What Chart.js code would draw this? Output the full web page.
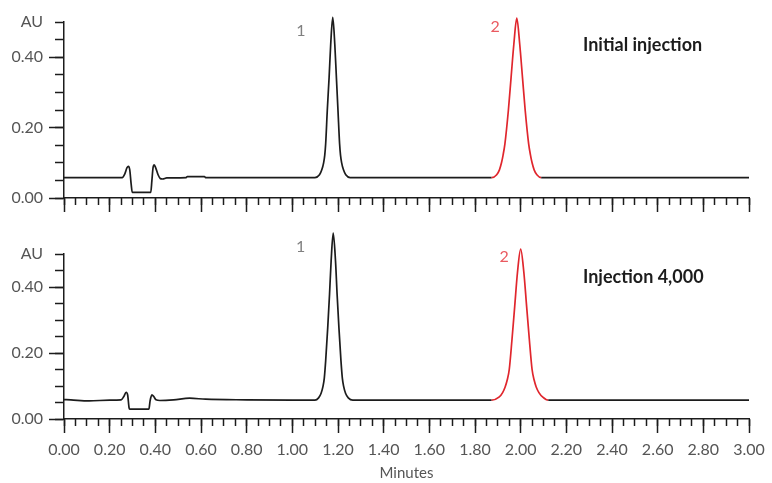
<!DOCTYPE html>
<html>
<head>
<meta charset="utf-8">
<script src="https://cdn.jsdelivr.net/npm/chart.js@4.4.0/dist/chart.umd.min.js"></script>
<style>
  html, body { margin: 0; padding: 0; background: #fff; }
  #wrap { position: relative; width: 772px; height: 483px; }
  canvas { position: absolute; left: 0; }
  #topChart { top: 0; }
  #bottomChart { top: 220px; }
</style>
</head>
<body>
<div id="wrap">
  <canvas id="topChart" width="772" height="220"></canvas>
  <canvas id="bottomChart" width="772" height="263"></canvas>
</div>
<script>
// ---- data (time in minutes, absorbance in AU) ----
const topTime = [0.000, 0.255, 0.266, 0.276, 0.282, 0.288, 0.294, 0.299, 0.380, 0.385, 0.390, 0.395,
  0.402, 0.412, 0.422, 0.432, 0.450, 0.535, 0.540, 0.615, 0.620,
  1.099, 1.119, 1.129, 1.137, 1.142, 1.146, 1.153, 1.161, 1.168, 1.177, 1.186, 1.193, 1.200, 1.207, 1.211, 1.216, 1.224, 1.234, 1.253,
  1.873, 1.895, 1.907, 1.916, 1.923, 1.931, 1.946, 1.958, 1.970, 1.983, 1.996, 2.008, 2.020, 2.035, 2.043, 2.050, 2.059, 2.071, 2.090,
  3.000];
const topAU = [0.058, 0.058, 0.068, 0.086, 0.090, 0.080, 0.040, 0.016, 0.016, 0.050, 0.086, 0.094,
  0.085, 0.066, 0.055, 0.054, 0.057, 0.058, 0.061, 0.061, 0.058,
  0.058, 0.066, 0.080, 0.100, 0.122, 0.154, 0.248, 0.342, 0.436, 0.513, 0.436, 0.342, 0.248, 0.154, 0.122, 0.100, 0.080, 0.066, 0.058,
  0.058, 0.066, 0.080, 0.100, 0.122, 0.154, 0.248, 0.342, 0.436, 0.511, 0.436, 0.342, 0.248, 0.154, 0.122, 0.100, 0.080, 0.066, 0.058,
  0.058];

const bottomTime = [0.000, 0.030, 0.110, 0.200, 0.250, 0.262, 0.272, 0.279, 0.285, 0.288, 0.372, 0.377,
  0.385, 0.393, 0.403, 0.420, 0.480, 0.550, 0.620, 0.800, 1.000,
  1.099, 1.115, 1.126, 1.134, 1.140, 1.146, 1.155, 1.163, 1.170, 1.179, 1.189, 1.196, 1.204, 1.213, 1.219, 1.225, 1.233, 1.245, 1.265,
  1.873, 1.905, 1.921, 1.932, 1.941, 1.950, 1.962, 1.974, 1.986, 2.000, 2.014, 2.026, 2.038, 2.050, 2.059, 2.068, 2.080, 2.097, 2.121,
  3.000];
const bottomAU = [0.059, 0.058, 0.055, 0.057, 0.058, 0.068, 0.081, 0.072, 0.034, 0.030, 0.030, 0.055,
  0.073, 0.068, 0.058, 0.056, 0.058, 0.063, 0.060, 0.058, 0.057,
  0.057, 0.064, 0.078, 0.098, 0.124, 0.176, 0.277, 0.379, 0.480, 0.563, 0.480, 0.379, 0.277, 0.176, 0.124, 0.098, 0.078, 0.064, 0.057,
  0.057, 0.066, 0.080, 0.097, 0.118, 0.150, 0.241, 0.342, 0.444, 0.515, 0.444, 0.342, 0.241, 0.150, 0.118, 0.097, 0.080, 0.066, 0.057,
  0.057];

// peak 2 is traced in red between these times
const topRed = [1.873, 2.090];
const bottomRed = [1.873, 2.121];

const xTickLabels = ['0.00', '0.20', '0.40', '0.60', '0.80', '1.00', '1.20', '1.40', '1.60',
  '1.80', '2.00', '2.20', '2.40', '2.60', '2.80', '3.00'];
const yTickLabels = ['0.00', '', '0.20', '', '0.40', 'AU'];
const peakNames = ['1', '2'];
const panelTitles = ['Initial injection', 'Injection 4,000'];

const INK = '#1c1c1c';
const RED = '#e0262d';
const TICK_TEXT = '#555';

Chart.defaults.font.family = 'Lato, "DejaVu Sans", sans-serif';

// draws peak numbers and panel titles at data coordinates
const textPlugin = {
    id: 'panelText',
    afterDatasetsDraw(chart, args, opts) {
        const { ctx } = chart;
        const x = chart.scales.x, y = chart.scales.y;
        ctx.save();
        ctx.textBaseline = 'alphabetic';
        opts.items.forEach(it => {
            ctx.font = it.font;
            ctx.fillStyle = it.color;
            ctx.textAlign = it.align;
            ctx.fillText(it.text, x.getPixelForValue(it.t), y.getPixelForValue(it.v));
        });
        ctx.restore();
    }
};

function makeChart(id, times, values, red, opts) {
    const pts = times.map((t, i) => ({ x: t, y: values[i] }));
    return new Chart(document.getElementById(id), {
        type: 'line',
        data: {
            datasets: [{
                data: pts,
                borderColor: INK,
                borderWidth: 1.7,
                pointRadius: 0,
                cubicInterpolationMode: 'monotone',
                clip: false,
                segment: {
                    borderColor: c => (c.p0.parsed.x >= red[0] - 1e-9 && c.p1.parsed.x <= red[1] + 1e-9) ? RED : undefined
                }
            }]
        },
        options: {
            responsive: false,
            animation: false,
            layout: { padding: { left: 0, right: 23, top: opts.padTop, bottom: 0 } },
            plugins: {
                legend: { display: false },
                tooltip: { enabled: false },
                panelText: { items: opts.items }
            },
            scales: {
                x: {
                    type: 'linear', position: 'bottom', min: 0, max: 3,
                    afterFit: s => { s.height = opts.xHeight; },
                    border: { color: INK, width: 1.5 },
                    grid: { drawOnChartArea: false, tickLength: 14, tickWidth: 1.5, tickColor: INK },
                    ticks: {
                        display: opts.showX, stepSize: 0.2, padding: 7, autoSkip: false, maxRotation: 0,
                        color: TICK_TEXT, font: { size: 16 },
                        callback: (v, i) => xTickLabels[i]
                    },
                    title: {
                        display: opts.showX, text: 'Minutes', color: TICK_TEXT,
                        font: { size: 15 }, padding: { top: 0, bottom: 1 }
                    }
                },
                xMinor: {
                    type: 'linear', axis: 'x', position: { y: 0 }, min: 0, max: 3,
                    border: { display: false },
                    grid: { drawOnChartArea: false, tickLength: 7, tickWidth: 1.5, tickColor: INK },
                    ticks: { display: false, stepSize: 0.05 }
                },
                y: {
                    type: 'linear', position: 'left', min: 0, max: 0.5,
                    afterFit: s => { s.width = 64; },
                    border: { color: INK, width: 1.5 },
                    grid: {
                        drawOnChartArea: false, tickLength: 15, tickWidth: 1.5,
                        tickColor: c => (c.index % 2 === 0 && c.index < 5) ? INK : 'rgba(0,0,0,0)'
                    },
                    ticks: {
                        stepSize: 0.1, padding: 6, color: TICK_TEXT, font: { size: 16 },
                        callback: (v, i) => yTickLabels[i]
                    }
                },
                yMinor: {
                    type: 'linear', axis: 'y', position: { x: 0 }, min: 0, max: 0.5,
                    border: { display: false },
                    grid: { drawOnChartArea: false, tickLength: 9, tickWidth: 1.5, tickColor: INK },
                    ticks: { display: false, stepSize: 0.05 }
                }
            }
        },
        plugins: [textPlugin]
    });
}

makeChart('topChart', topTime, topAU, topRed, {
    padTop: 22, xHeight: 22, showX: false,
    items: [
        { text: peakNames[0], t: 1.037, v: 0.459, font: '16px Lato', color: '#808080', align: 'center' },
        { text: peakNames[1], t: 1.888, v: 0.473, font: '16px Lato', color: '#ea5a60', align: 'center' },
        { text: panelTitles[0], t: 2.273, v: 0.419, font: 'bold 18px Lato', color: INK, align: 'left' }
    ]
});

makeChart('bottomChart', bottomTime, bottomAU, bottomRed, {
    padTop: 34, xHeight: 64, showX: true,
    items: [
        { text: peakNames[0], t: 1.036, v: 0.506, font: '16px Lato', color: '#808080', align: 'center' },
        { text: peakNames[1], t: 1.928, v: 0.477, font: '16px Lato', color: '#ea5a60', align: 'center' },
        { text: panelTitles[1], t: 2.273, v: 0.412, font: 'bold 18px Lato', color: INK, align: 'left' }
    ]
});
</script>
</body>
</html>
